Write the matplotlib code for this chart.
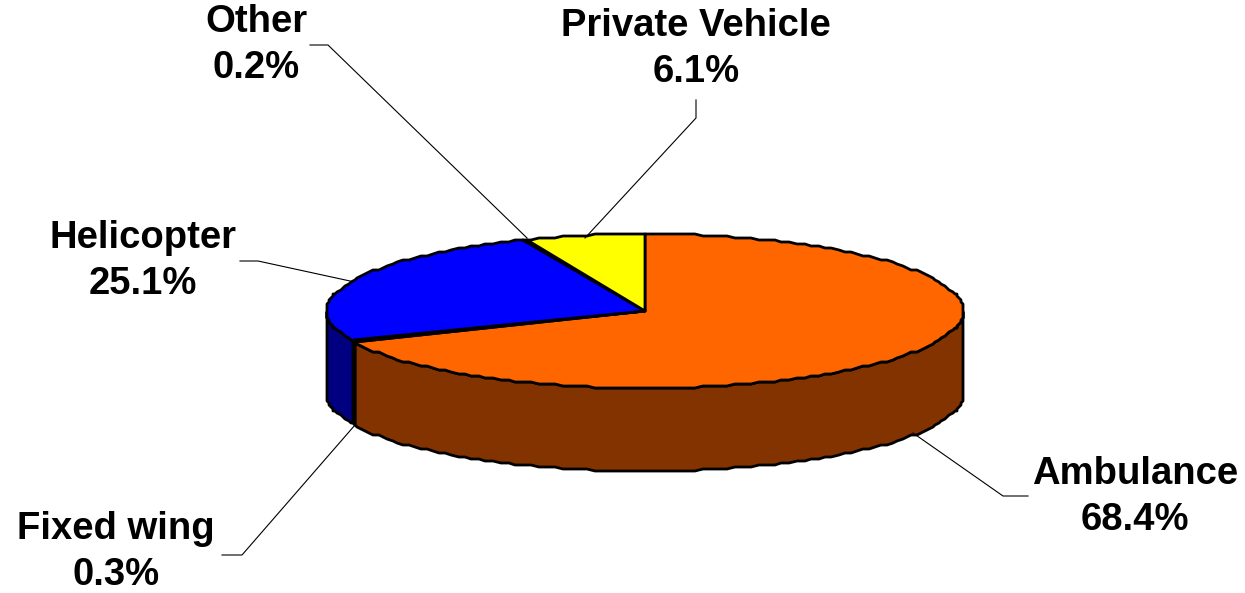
import numpy as np
import matplotlib
matplotlib.use('Agg')
import matplotlib.pyplot as plt

labels = ['Ambulance', 'Fixed wing', 'Helicopter', 'Other', 'Private Vehicle']
values = [68.4, 0.3, 25.1, 0.2, 6.1]
top_colors = ['#FF6600', '#000000', '#0000FF', '#FFFFFF', '#FFFF00']
side_colors = ['#833300', '#000000', '#000080', '#808080', '#808000']

# label text position and leader line, in pixels
label_pos = [(1135, 497), (116, 552), (143, 261), (256, 45), (696, 49)]
leaders = [
    [(913, 433), (1003, 496), (1028, 496)],
    [(355, 425), (242, 555), (222, 555)],
    [(350, 281), (258, 261), (240, 261)],
    [(527, 238), (328, 45), (310, 45)],
    [(585, 238), (696, 118), (696, 100)],
]

cx, cy = 645, 311
rx, ry = 318, 77
depth = 83

def rim(t0, t1):
    # t is clockwise from 12 o'clock, in degrees
    # snapped to a small grid, the original outline is a rough polygon
    inner = np.arange(np.ceil(t0 / 1.5) * 1.5, t1, 1.5)
    t = np.radians(np.concatenate([[t0], inner, [t1]]))
    x = cx + rx * np.sin(t)
    y = cy - ry * np.cos(t)
    return np.round((x - 1) / 2) * 2 + 1, np.round(y / 2) * 2

fig = plt.figure(figsize=(12.45, 5.93), dpi=100)
ax = fig.add_axes([0, 0, 1, 1])
ax.set_xlim(0, 1245)
ax.set_ylim(593, 0)
ax.axis('off')

edges = np.concatenate([[0], np.cumsum(values)]) / sum(values) * 360

# side wall, only the front half of the ellipse shows
for i in range(len(values)):
    a, b = max(edges[i], 90), min(edges[i + 1], 270)
    if a >= b:
        continue
    x, y = rim(a, b)
    xs = np.concatenate([x, x[::-1]])
    ys = np.concatenate([y, y[::-1] + depth])
    ax.fill(xs, ys, facecolor=side_colors[i], edgecolor='k', lw=2, joinstyle='round', zorder=2)

# top face
for i in range(len(values)):
    x, y = rim(edges[i], edges[i + 1])
    xs = np.concatenate([[cx], x])
    ys = np.concatenate([[cy], y])
    ax.fill(xs, ys, facecolor=top_colors[i], edgecolor='k', lw=2, joinstyle='round', zorder=3)

for pts in leaders:
    px, py = zip(*pts)
    ax.plot(px, py, color='k', lw=0.8, zorder=4)

for name, v, (tx, ty) in zip(labels, values, label_pos):
    ax.text(tx, ty, f'{name}\n{v:.1f}%', ha='center', va='center', family='Liberation Sans',
            fontweight='bold', fontsize=27.5, linespacing=1.36, color='k', zorder=5)

fig.savefig('out.png', dpi=100)
